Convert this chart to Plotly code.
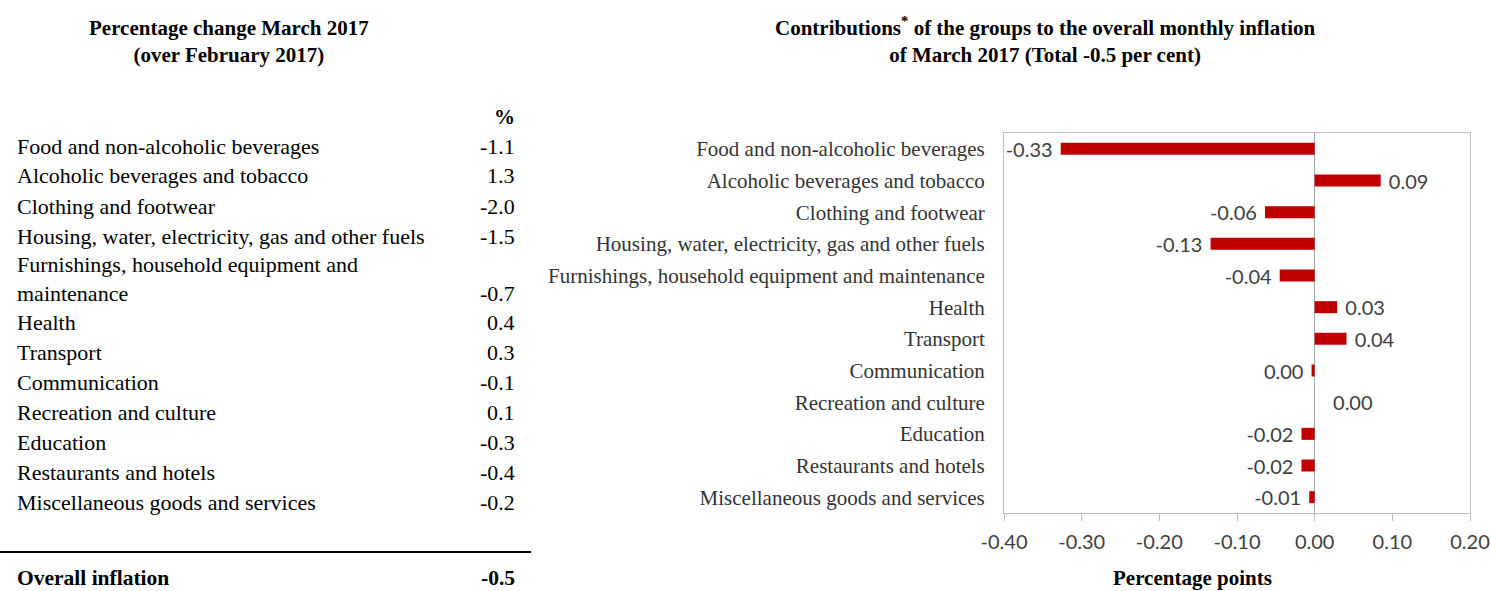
import plotly.graph_objects as go

# ---------------- data ----------------
categories = [
    "Food and non-alcoholic beverages",
    "Alcoholic beverages and tobacco",
    "Clothing and footwear",
    "Housing, water, electricity, gas and other fuels",
    "Furnishings, household equipment and maintenance",
    "Health",
    "Transport",
    "Communication",
    "Recreation and culture",
    "Education",
    "Restaurants and hotels",
    "Miscellaneous goods and services",
]
contributions = [-0.327, 0.085, -0.064, -0.134, -0.045, 0.029, 0.041, -0.004, 0.0, -0.017, -0.017, -0.007]

table_labels = [
    "Food and non-alcoholic beverages",
    "Alcoholic beverages and tobacco",
    "Clothing and footwear",
    "Housing, water, electricity, gas and other fuels",
    "Furnishings, household equipment and<br>maintenance",
    "Health",
    "Transport",
    "Communication",
    "Recreation and culture",
    "Education",
    "Restaurants and hotels",
    "Miscellaneous goods and services",
]
table_values = [-1.1, 1.3, -2.0, -1.5, -0.7, 0.4, 0.3, -0.1, 0.1, -0.3, -0.4, -0.2]
overall_label = "Overall inflation"
overall_value = -0.5

x_tickvals = [-0.40, -0.30, -0.20, -0.10, 0.00, 0.10, 0.20]

# ---------------- layout helpers ----------------
W, H = 1491, 591
def px(x):
    return x / W
def py(y):
    return 1 - y / H

SERIF = "Liberation Serif, Times New Roman, serif"
SANS = "Lato, Open Sans, sans-serif"
TXT = "#404040"
NB = "\u00a0"

def fmt2(v):
    return "{:.2f}".format(round(v, 2) + 0.0)

def bar_label(v):
    s = fmt2(v)
    if v < 0:
        return s + NB
    if v == 0:
        return NB * 3 + s
    return NB + s

bar_text = [bar_label(v) for v in contributions]

fig = go.Figure()
fig.add_trace(go.Bar(
    x=contributions,
    y=categories,
    orientation="h",
    marker=dict(color="#c00000", line=dict(width=0)),
    text=bar_text,
    textposition="outside",
    textfont=dict(family=SANS, size=20, color=TXT),
    constraintext="none",
    cliponaxis=False,
    hoverinfo="skip",
))

fig.update_layout(
    width=W, height=H,
    autosize=False,
    margin=dict(l=0, r=0, t=0, b=0, pad=0),
    paper_bgcolor="white",
    plot_bgcolor="white",
    showlegend=False,
    bargap=0.62,
    xaxis=dict(
        domain=[px(1004), px(1470)],
        range=[-0.40, 0.20],
        automargin=False,
        tickvals=x_tickvals,
        ticktext=[fmt2(v) for v in x_tickvals],
        tickfont=dict(family=SANS, size=20, color=TXT),
        ticks="outside", ticklen=7, tickcolor="#bfbfbf", tickwidth=1,
        showline=True, linecolor="#bfbfbf", linewidth=1, mirror=True,
        showgrid=False,
        zeroline=True, zerolinecolor="#a6a6a6", zerolinewidth=1.5,
        ticklabelstandoff=4,
        fixedrange=True,
    ),
    yaxis=dict(
        domain=[py(513), py(133)],
        autorange="reversed",
        automargin=False,
        type="category",
        tickfont=dict(family=SERIF, size=21, color="#333333"),
        ticks="",
        ticklabelstandoff=14,
        showline=True, linecolor="#bfbfbf", linewidth=1, mirror=True,
        showgrid=False,
        fixedrange=True,
    ),
)

annotations = []
# chart title
annotations.append(dict(
    x=px(1045), y=py(40), xref="paper", yref="paper",
    text="<b>Contributions<sup>*</sup> of the groups to the overall monthly inflation<br>of March 2017 (Total -0.5 per cent)</b>",
    showarrow=False, xanchor="center", yanchor="middle",
    font=dict(family=SERIF, size=21, color="black"),
))
# axis title
annotations.append(dict(
    x=px(1192), y=py(578), xref="paper", yref="paper",
    text="<b>Percentage points</b>", showarrow=False,
    xanchor="center", yanchor="middle",
    font=dict(family=SERIF, size=21, color="black"),
))
# table title
annotations.append(dict(
    x=px(229), y=py(42), xref="paper", yref="paper",
    text="<b>Percentage change March 2017<br>(over February 2017)</b>",
    showarrow=False, xanchor="center", yanchor="middle",
    font=dict(family=SERIF, size=21, color="black"),
))
# table header
annotations.append(dict(
    x=px(517), y=py(117), xref="paper", yref="paper",
    text="<b>%</b>", showarrow=False, xanchor="right", yanchor="middle",
    font=dict(family=SERIF, size=21, color="black"),
))

# table rows
row_top = 131
single_h = 30
line_h = 28
cursor = row_top
for lab, val in zip(table_labels, table_values):
    nlines = lab.count("<br>") + 1
    h = single_h + (nlines - 1) * (line_h - 2)
    center = cursor + h / 2
    annotations.append(dict(
        x=px(15), y=py(center), xref="paper", yref="paper",
        text=lab, showarrow=False, xanchor="left", yanchor="middle", align="left",
        font=dict(family=SERIF, size=22, color="black"),
    ))
    val_y = center + (nlines - 1) * line_h / 2
    annotations.append(dict(
        x=px(517), y=py(val_y), xref="paper", yref="paper",
        text="{:.1f}".format(val), showarrow=False, xanchor="right", yanchor="middle",
        font=dict(family=SERIF, size=22, color="black"),
    ))
    cursor += h

# overall row
annotations.append(dict(
    x=px(15), y=py(578), xref="paper", yref="paper",
    text="<b>" + overall_label + "</b>", showarrow=False, xanchor="left", yanchor="middle",
    font=dict(family=SERIF, size=21.5, color="black"),
))
annotations.append(dict(
    x=px(517), y=py(578), xref="paper", yref="paper",
    text="<b>{:.1f}</b>".format(overall_value), showarrow=False, xanchor="right", yanchor="middle",
    font=dict(family=SERIF, size=21.5, color="black"),
))

fig.update_layout(annotations=annotations)
fig.add_shape(type="line", xref="paper", yref="paper",
              x0=0, x1=px(531), y0=py(552), y1=py(552),
              line=dict(color="black", width=2))

fig.write_html(
    "out.html",
    config={"displayModeBar": False, "staticPlot": True},
    post_script="document.body.style.margin='0';document.body.style.overflow='hidden';",
)
